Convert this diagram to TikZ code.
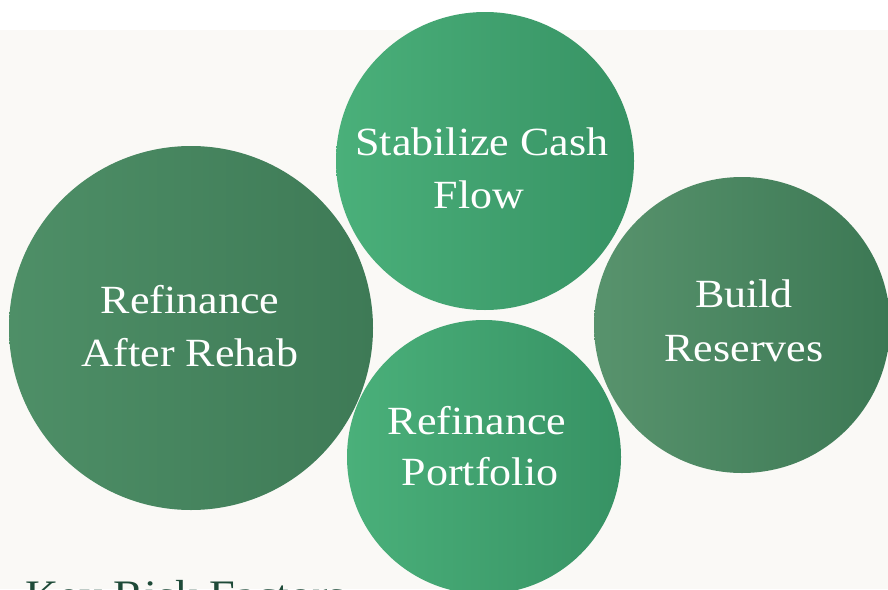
\documentclass[tikz,border=0pt]{standalone}
\usepackage{fontspec}
\setmainfont[FakeStretch=1.1]{Liberation Serif}
\definecolor{bgc}{RGB}{250,249,246}
\definecolor{titlec}{RGB}{30,74,56}
\definecolor{cAL}{RGB}{74,176,122}
\definecolor{cAR}{RGB}{55,146,100}
\definecolor{cBL}{RGB}{78,143,103}
\definecolor{cBR}{RGB}{62,122,86}
\definecolor{cCL}{RGB}{88,147,109}
\definecolor{cCR}{RGB}{60,120,84}
\begin{document}
\begin{tikzpicture}[x=1pt,y=-1pt,
  bub/.style={circle, inner sep=0pt, draw=none},
  lbl/.style={text=white, font=\fontsize{40}{48}\selectfont, anchor=base, inner sep=0pt},
]
\useasboundingbox (0,0) rectangle (888,589);
\clip (0,0) rectangle (888,589);
\fill[white] (0,0) rectangle (888,30);
\fill[bgc] (0,30) rectangle (888,589);
% bubbles
\node[bub, minimum size=298pt, left color=cAL, right color=cAR] (c1) at (485,161) {};
\node[bub, minimum size=364pt, left color=cBL, right color=cBR] (c2) at (191,328) {};
\node[bub, minimum size=296pt, left color=cCL, right color=cCR] (c3) at (742,325) {};
\node[bub, minimum size=274pt, left color=cAL, right color=cAR] (c4) at (484,457) {};
% labels
\node[lbl] (t1a) at (482,155) {Stabilize Cash};
\node[lbl] (t1b) at (479,208) {Flow};
\node[lbl] (t2a) at (190,313) {Refinance};
\node[lbl] (t2b) at (190,366) {After Rehab};
\node[lbl] (t3a) at (744,307) {Build};
\node[lbl] (t3b) at (744,361) {Reserves};
\node[lbl] (t4a) at (477,434) {Refinance};
\node[lbl] (t4b) at (480,485) {Portfolio};
% title (cut off)
\node[text=titlec, font=\fontsize{42}{50}\selectfont, anchor=base west, inner sep=0pt] (title) at (25,609) {Key Risk Factors};
\end{tikzpicture}
\end{document}
